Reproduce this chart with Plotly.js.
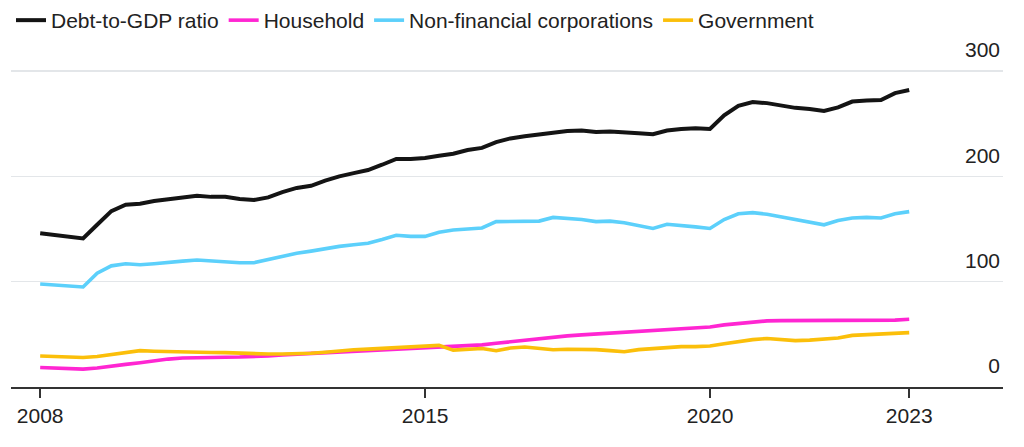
<!DOCTYPE html>
<html>
<head>
<meta charset="utf-8">
<script src="https://cdn.plot.ly/plotly-3.0.1.min.js"></script>
<style>html,body{margin:0;padding:0;background:#fff;}#chart{width:1024px;height:447px;}</style>
</head>
<body>
<div id="chart"></div>
<script>
// Quarterly observations, 2008 Q1 .. 2023 Q2
const years = [2008,2009,2010,2011,2012,2013,2014,2015,2016,2017,2018,2019,2020,2021,2022,2023];
const quarterEnds = ["03-31","06-30","09-30","12-31"];
const lastQuarter = "2023-06-30";

const debtToGDP = [146,144.5,143,141,154,167,173,174,176.5,178,180,181.5,180.5,180.5,178.5,177.5,
  180,185,189,191,196,200,203,206,211,216.5,216.5,217.5,219.5,221.5,225,227,
  232.5,236,238,240,241.5,243,243.5,242,242.5,242,241,240,243.5,245,245.6,245,
  258,267,270.5,269.5,267,265,264,262,265.5,271,272,272.5,279,282];
const household = [18.5,18,17.5,17,18,20,21.5,23,25,26.5,27.5,28,28.2,28.3,28.5,28.8,
  29.5,30.5,31.2,31.5,32,33,34,34.5,35,36,36.5,37.3,37.8,38.5,39,40,
  41.5,43,44.5,46,47.5,48.5,49.5,50.3,51,52,53,54,55,55.8,56.5,57,
  59,60.5,62,62.8,63,63,63,62.8,62.7,62.7,62.7,62.8,63.5,64.3];
const nonFinCorp = [97.8,97,96,95,108,115,117,116,117,118.5,119.5,120.5,119.5,119,118,118,
  121,124.5,127,129,131.5,133.5,135,136.5,140,144,143,143,147,149,150,151,
  157,157,157.5,157.5,161,160,159,157,157.5,156,153,150.5,154.5,153.5,152,150.5,
  159,164.5,165.5,164,161.5,159,157,154,158,160.5,161,160.5,164.5,166.5];
const government = [29.4,29,28.5,28,29,31,33,34.5,34,33.5,33,33,32.8,32.6,32,31.5,
  31.3,31.3,31.5,32,33,34.5,35.3,36,36.8,37.7,38.3,39.5,39.5,35,35.5,36.5,
  34.5,37,38,37,35.3,35.8,36,35.5,34.5,33.5,35.5,36.5,37.5,38.3,38.3,38.9,
  41,43,45,46,45,44,44.5,45.3,46.5,49,49.8,50.3,51,51.6];

const xTickVals = ["2008-03-31","2015-01-01","2020-01-01","2023-06-30"];
const xTickText = ["2008","2015","2020","2023"];
const yTickVals = [0,100,200,300];
const yTickText = ["0","100","200","300"];

const dates = [];
years.forEach(y => quarterEnds.forEach(q => {
  const d = y + "-" + q;
  if (d <= lastQuarter) dates.push(d);
}));

const seriesNames = ["Debt-to-GDP ratio","Household","Non-financial corporations","Government"];
const seriesData = [debtToGDP, household, nonFinCorp, government];
const seriesColors = ["#141414","#ff26d2","#5cd0fb","#fbbf0a"];
const seriesWidths = [4, 3.6, 3.6, 3.6];

const traces = seriesNames.map((n, i) => ({
  type: "scatter", mode: "lines", name: n, x: dates, y: seriesData[i],
  line: {color: seriesColors[i], width: seriesWidths[i]},
  hoverinfo: "skip"
}));

const font = {family: "Liberation Sans, Arial, Helvetica, sans-serif", size: 21, color: "#222"};

const layout = {
  width: 1024, height: 447,
  margin: {l: 11, r: 21, t: 0, b: 60},
  paper_bgcolor: "#fff", plot_bgcolor: "#fff",
  font: font,
  showlegend: true,
  legend: {orientation: "h", x: 0, y: 1, xref: "paper", yref: "paper",
    xanchor: "left", yanchor: "top", font: font, itemwidth: 30, tracegroupgap: 0,
    bgcolor: "rgba(0,0,0,0)"},
  xaxis: {type: "date", range: ["2007-09-26", "2025-02-20"],
    tickmode: "array", tickvals: xTickVals, ticktext: xTickText,
    showgrid: false, zeroline: false, showline: true, linecolor: "#333", linewidth: 1.5,
    ticks: "outside", ticklen: 9, tickwidth: 1.5, tickcolor: "#333",
    tickfont: font, fixedrange: true},
  yaxis: {range: [0, 367.4], side: "right", tickmode: "array",
    tickvals: yTickVals, ticktext: yTickText,
    ticklabelposition: "inside", ticklabelshift: -21, ticklabelstandoff: 0,
    showgrid: true, gridcolor: "#e3e6e9", gridwidth: 1.5,
    zeroline: false, showline: false, ticks: "",
    tickfont: font, fixedrange: true}
};

Plotly.newPlot("chart", traces, layout, {displayModeBar: false, staticPlot: true});
</script>
</body>
</html>
